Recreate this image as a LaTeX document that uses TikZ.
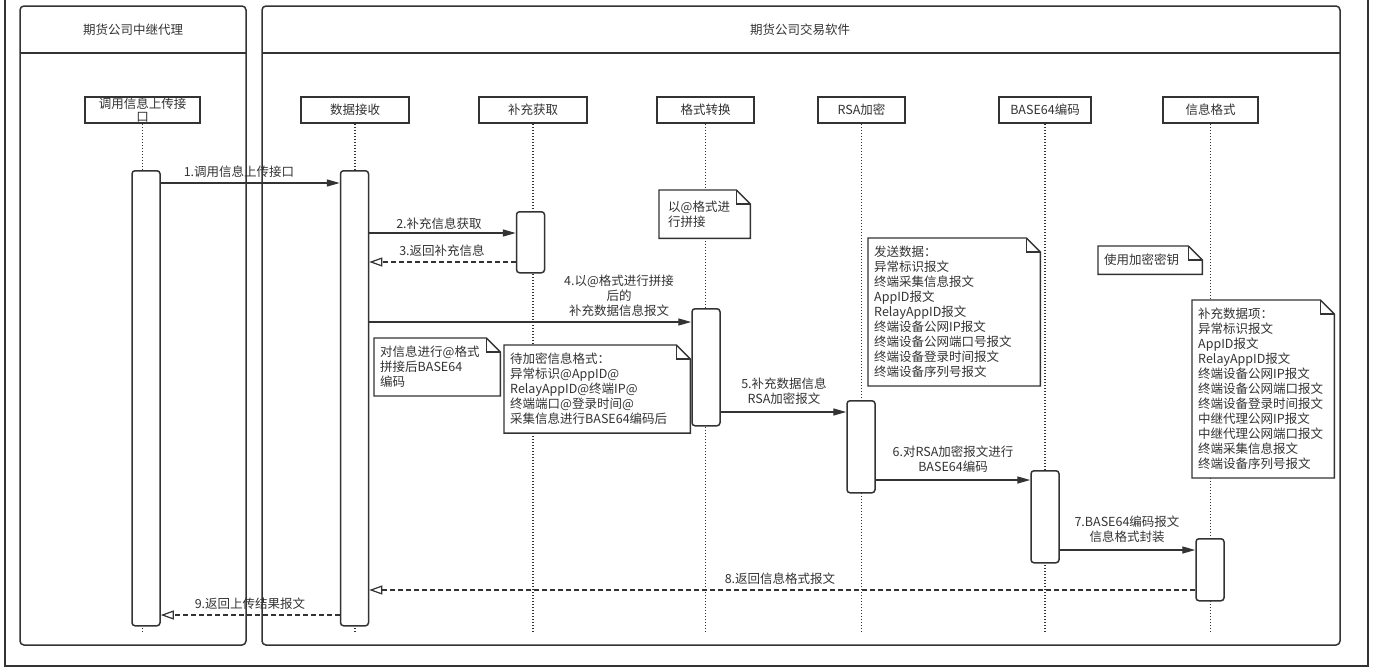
\documentclass[tikz,border=0pt]{standalone}
\usepackage{fontspec}
\setmainfont{Noto Sans CJK SC}
\usetikzlibrary{arrows.meta,calc}
\definecolor{lc}{HTML}{333333}
\newcommand\fs{\fontsize{12.5}{15}\selectfont}
\pgfdeclarelayer{back}
\pgfdeclarelayer{fold}
\pgfsetlayers{back,fold,main}
\tikzset{
  frameline/.style={draw=lc, line width=1.8pt},
  lane/.style={draw=lc, line width=1.5pt, rounded corners=4pt},
  lifebox/.style={draw=lc, line width=1.5pt, fill=white, minimum height=26pt, inner sep=0pt, font=\fontsize{12.5}{13}\selectfont, text=lc, align=center},
  act/.style={draw=lc, line width=1.5pt, fill=white, rounded corners=3pt, minimum width=28pt, inner sep=0pt, anchor=north},
  lifeline/.style={draw=lc, line width=1.7pt, dash pattern=on 1.5pt off 1.5pt},
  call/.style={draw=lc, line width=1.4pt, -{Triangle[length=13pt,width=7pt]}},
  ret/.style={draw=lc, line width=1.2pt, dash pattern=on 5pt off 3pt, -{Triangle[open,length=13pt,width=9pt]}},
  lbl/.style={font=\fs, text=lc, inner sep=1pt, align=center},
  hdr/.style={font=\fs, text=lc},
  notebox/.style={font=\fs, text=lc, align=left, anchor=north west, inner xsep=6pt, inner ysep=8pt},
  notefold/.style={draw=lc, line width=1.4pt, fill=white}
}
\newcommand\dogear[1]{%
  \begin{pgfonlayer}{fold}
  \filldraw[notefold] (#1.north west) -- ([xshift=-14pt]#1.north east) -- ([yshift=-14pt]#1.north east) -- (#1.south east) -- (#1.south west) -- cycle;
  \draw[notefold, fill=none] ([xshift=-14pt]#1.north east) -- ([xshift=-14pt,yshift=-14pt]#1.north east) -- ([yshift=-14pt]#1.north east);
  \end{pgfonlayer}}
\begin{document}
\begin{tikzpicture}[x=1pt,y=-1pt]
\useasboundingbox (0,0) rectangle (1376,670);

% outer frame and lanes
\begin{pgfonlayer}{back}
\draw[frameline] (5,0) -- (5,666) -- (1368,666) -- (1368,0);
\draw[lane] (20,6) rectangle (246,645);
\draw[lane] (20,53) -- (246,53);
\draw[lane] (262,6) rectangle (1340,645);
\draw[lane] (262,53) -- (1340,53);
\end{pgfonlayer}
\node[hdr] (H1) at (133,30) {期货公司中继代理};
\node[hdr] (H2) at (800,30) {期货公司交易软件};

% lifeline heads
\node[lifebox, minimum width=115pt] (L1) at (142.5,110) {调用信息上传接\\口};
\node[lifebox, minimum width=108pt] (L2) at (355,110) {数据接收};
\node[lifebox, minimum width=108pt] (L3) at (533,110) {补充获取};
\node[lifebox, minimum width=97pt] (L4) at (705.5,110) {格式转换};
\node[lifebox, minimum width=87pt] (L5) at (861.5,110) {RSA加密};
\node[lifebox, minimum width=92pt] (L6) at (1045,110) {BASE64编码};
\node[lifebox, minimum width=95pt] (L7) at (1210.5,110) {信息格式};

\begin{pgfonlayer}{back}
\foreach \n in {L1,L2,L3,L4,L5,L6,L7}
  \draw[lifeline] (\n.south) -- (\n.south |- 0,632);
\end{pgfonlayer}

% activations
\node[act, minimum height=455pt] (A1) at (146,170) {};
\node[act, minimum height=455pt] (A2) at (354.5,170) {};
\node[act, minimum height=61pt] (A3) at (530.5,211) {};
\node[act, minimum height=117pt] (A4) at (706,308) {};
\node[act, minimum height=92pt] (A5) at (861,400) {};
\node[act, minimum height=92pt] (A6) at (1045,470) {};
\node[act, minimum height=62pt] (A7) at (1210,538) {};

% messages
\draw[call] (A1.east |- 0,183) -- (A2.west |- 0,183);
\node[lbl] (T1) at (239,172) {1.调用信息上传接口};

\draw[call] (A2.east |- 0,233) -- (A3.west |- 0,233);
\node[lbl] (T2) at (439,224) {2.补充信息获取};

\draw[ret] (A3.west |- 0,262) -- (A2.east |- 0,262);
\node[lbl] (T3) at (442,251) {3.返回补充信息};

\draw[call] (A2.east |- 0,322) -- (A4.west |- 0,322);
\node[lbl] (T4) at (619,296) {4.以@格式进行拼接\\后的\\补充数据信息报文};

\draw[call] (A4.east |- 0,412) -- (A5.west |- 0,412);
\node[lbl] (T5) at (784,391) {5.补充数据信息\\RSA加密报文};

\draw[call] (A5.east |- 0,480) -- (A6.west |- 0,480);
\node[lbl] (T6) at (953,459) {6.对RSA加密报文进行\\BASE64编码};

\draw[call] (A6.east |- 0,550) -- (A7.west |- 0,550);
\node[lbl] (T7) at (1127,529) {7.BASE64编码报文\\信息格式封装};

\draw[ret] (A7.west |- 0,590) -- (A2.east |- 0,590);
\node[lbl] (T8) at (780,579) {8.返回信息格式报文};

\draw[ret] (A2.west |- 0,615) -- (A1.east |- 0,615);
\node[lbl] (T9) at (250,604) {9.返回上传结果报文};

% notes
\node[notebox, text width=73pt, inner xsep=9pt, minimum height=48pt] (Nf) at (659,190) {以@格式进\\行拼接};
\dogear{Nf}
\node[notebox, text width=114pt] (N1) at (374,338) {对信息进行@格式\\拼接后BASE64\\编码};
\dogear{N1}
\node[notebox, text width=174pt] (N2) at (504,345) {待加密信息格式：\\异常标识@AppID@\\RelayAppID@终端IP@\\终端端口@登录时间@\\采集信息进行BASE64编码后};
\dogear{N2}
\node[notebox, text width=160pt] (N3) at (868,238) {发送数据：\\异常标识报文\\终端采集信息报文\\AppID报文\\RelayAppID报文\\终端设备公网IP报文\\终端设备公网端口号报文\\终端设备登录时间报文\\终端设备序列号报文};
\dogear{N3}
\node[notebox, text width=92pt, minimum height=28pt, inner ysep=4pt] (Nk) at (1098,246) {使用加密密钥};
\dogear{Nk}
\node[notebox, text width=130pt] (N4) at (1192,300) {补充数据项：\\异常标识报文\\AppID报文\\RelayAppID报文\\终端设备公网IP报文\\终端设备公网端口报文\\终端设备登录时间报文\\中继代理公网IP报文\\中继代理公网端口报文\\终端采集信息报文\\终端设备序列号报文};
\dogear{N4}
\end{tikzpicture}
\end{document}
